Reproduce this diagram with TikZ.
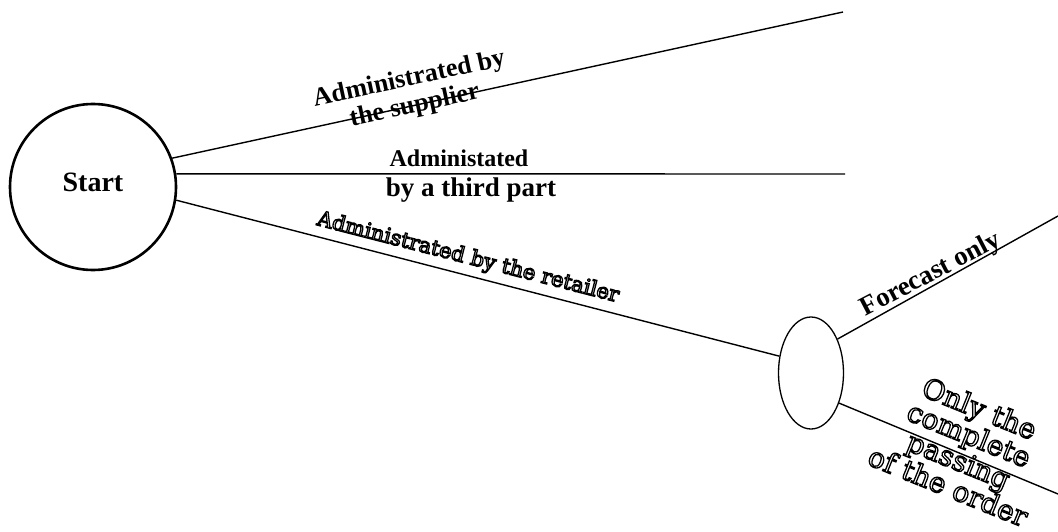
\documentclass[tikz,border=0pt]{standalone}
\usepackage{fontspec}
\setmainfont{Liberation Serif}
\newfontfamily\wideserif{DejaVu Serif}
\usetikzlibrary{shapes.geometric}
\newcommand{\outl}[1]{\special{pdf:literal direct 1 Tr 1.3 w}#1\special{pdf:literal direct 0 Tr}}
\tikzset{
  conn/.style={line width=1.4pt},
  lbl/.style={inner sep=0pt, align=center},
}
\begin{document}
\begin{tikzpicture}[x=1pt,y=-1pt]
\useasboundingbox (0,0) rectangle (1058,532);
\node[circle, draw, line width=2.6pt, minimum size=166pt, inner sep=0pt] (start) at (93,187) {};
\node[font=\bfseries\fontsize{28}{30}\selectfont] (startlbl) at (93,182) {Start};
\node[ellipse, draw, line width=1.3pt, minimum width=65pt, minimum height=112pt, inner sep=0pt] (ell) at (811,373) {};
\coordinate (e1) at (843,12);
\coordinate (e2) at (845,174);
\coordinate (e4) at (1058,216);
\coordinate (e5) at (1058,494);
\draw[conn] (start.20.6) -- (e1);
\draw[conn] (start.9) -- (e2);
\draw[conn] (start.-9) -- (ell.152);
\draw[conn] (ell.52) -- (e4);
\draw[conn] (ell.-47) -- (e5);
\node[lbl, rotate=12.2, font=\bfseries\fontsize{26}{27}\selectfont] (l1) at (412,93) {Administrated by\\the supplier};
\node[lbl, font=\bfseries\fontsize{24}{32}\selectfont] (l2a) at (459,158) {Administated};
\node[lbl, font=\bfseries\fontsize{27}{32}\selectfont] (l2b) at (471,190) {by a third part};
\node[lbl, rotate=-14.4, font=\wideserif\fontsize{21}{24}\selectfont] (l3) at (468,258) {\outl{Administrated by the retailer}};
\node[lbl, rotate=27.6, font=\bfseries\fontsize{27}{28}\selectfont] (l4) at (931,275) {Forecast only};
\node[lbl, rotate=-22, font=\wideserif\fontsize{28}{28}\selectfont] (l5) at (964,447) {\outl{Only the}\\\outl{complete}\\\outl{passing}\\\outl{of the order}};
\end{tikzpicture}
\end{document}
